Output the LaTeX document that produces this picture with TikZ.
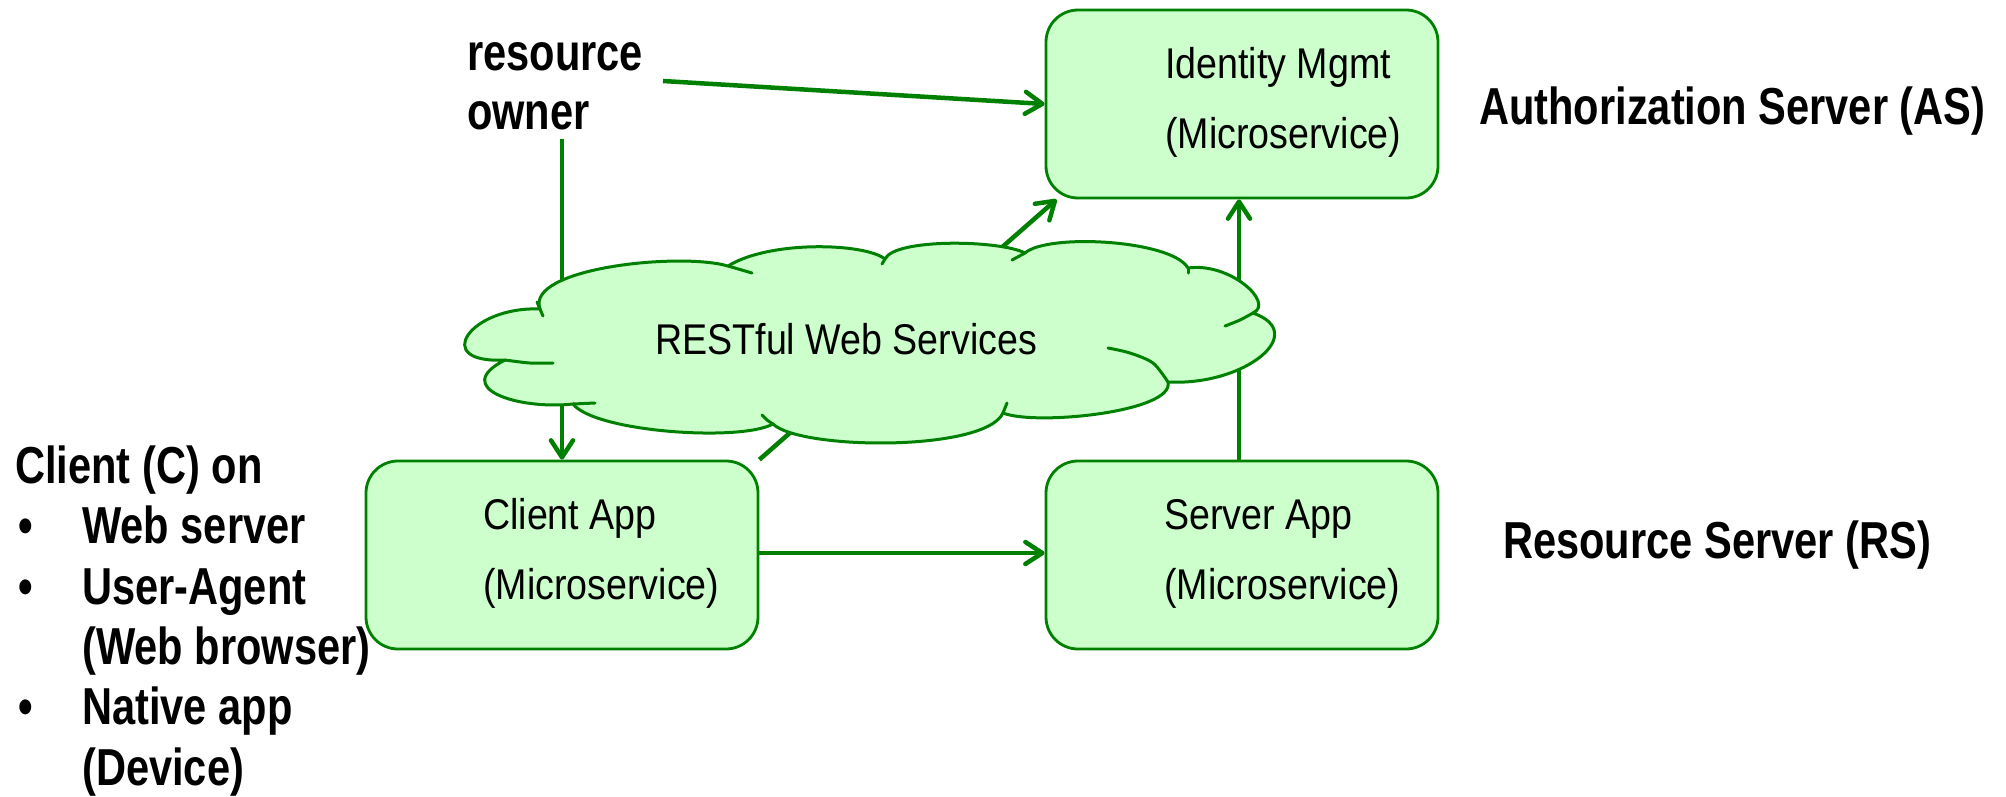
\documentclass[tikz,border=0pt]{standalone}
\usepackage{fontspec}
\setmainfont{Liberation Sans}
\newfontfamily\labelfont{Liberation Sans}[FakeStretch=0.8]
\newfontfamily\boxfont{Liberation Sans}[FakeStretch=0.875]
\usetikzlibrary{arrows.meta}
\definecolor{lineg}{RGB}{0,128,0}
\definecolor{fillg}{RGB}{204,255,204}

\begin{document}
\begin{tikzpicture}[x=1pt,y=-1pt,
  svc/.style={draw=lineg, fill=fillg, line width=2.8pt, rounded corners=32pt,
    minimum width=392pt, minimum height=188pt, inner sep=0pt},
  svctext/.style={anchor=base west, inner sep=0pt, font=\boxfont\fontsize{43}{50}\selectfont},
  heading/.style={anchor=base west, inner sep=0pt, font=\labelfont\bfseries\fontsize{52}{60}\selectfont},
  flow/.style={draw=lineg, line width=4.5pt, -{Straight Barb[length=17pt,width=22pt,round]}},
  puff/.style={draw=lineg, line width=3pt, line join=round, line cap=round},
  puffline/.style={draw=lineg, line width=3pt, line cap=round},
]
\useasboundingbox (0,0) rectangle (2006,796);

% --- service boxes ---
\node[svc] (idm)    at (1242,104) {};
\node[svc] (client) at (562,555) {};
\node[svc] (server) at (1242,555) {};

\node[svctext] (idm1) at (1165,78)  {Identity Mgmt};
\node[svctext] (idm2) at (1165,148) {(Microservice)};
\node[svctext] (cli1) at (483,529)  {Client App};
\node[svctext] (cli2) at (483,599)  {(Microservice)};
\node[svctext] (srv1) at (1164,529) {Server App};
\node[svctext] (srv2) at (1164,599) {(Microservice)};

% --- labels ---
\node[heading] (ro1) at (467,70)  {resource};
\node[heading] (ro2) at (467,129) {owner};
\node[heading] (as)  at (1479,124) {Authorization Server (AS)};
\node[heading] (rs)  at (1503,558) {Resource Server (RS)};

\node[heading] (cl0) at (15,483) {Client (C) on};
\node[heading, anchor=base] (b1) at (26,543) {•};
\node[heading] (cl1) at (82,543) {Web server};
\node[heading, anchor=base] (b2) at (26,604) {•};
\node[heading] (cl2) at (82,604) {User-Agent};
\node[heading] (cl3) at (82,664) {(Web browser)};
\node[heading, anchor=base] (b3) at (26,724) {•};
\node[heading] (cl4) at (82,724) {Native app};
\node[heading] (cl5) at (82,785) {(Device)};

% --- connectors (the cloud is drawn over them) ---
\coordinate (ro-out)  at (663,81);
\coordinate (ro-down) at (562,139);
\draw[flow] (ro-out) -- (idm.west);
\draw[flow] (ro-down) -- (client.north);
\draw[flow] (client.north east) -- ([xshift=12pt]idm.south west);
\draw[flow] ([xshift=-3pt]server.north) -- ([xshift=-3pt]idm.south);
\draw[flow] ([yshift=2pt]client.east) -- ([yshift=2pt]server.west);

% --- cloud outline, one lobe per curve ---
\draw[puff, fill=fillg] (540,309)
  .. controls (470,306) and (430,364) .. (505,360)     % left
  .. controls (450,388) and (518,410) .. (573,404)     % lower left
  .. controls (595,432) and (740,442) .. (773,424)     % bottom
  .. controls (800,450) and (985,452) .. (1003,413)    % bottom middle
  .. controls (1035,426) and (1175,412) .. (1168,382)  % bottom right
  .. controls (1245,386) and (1310,333) .. (1253,313)  % right
  .. controls (1275,303) and (1230,262) .. (1188,268)  % upper right
  .. controls (1172,240) and (1048,233) .. (1025,253)  % top right
  .. controls (1000,240) and (895,238) .. (885,259)    % top middle
  .. controls (865,243) and (770,240) .. (728,266)     % top left
  .. controls (680,252) and (525,268) .. (540,309)     % upper left
  -- cycle;

% inner arcs of the cloud
\draw[puffline] plot[smooth] coordinates {(537,302) (540,309) (543,316)};
\draw[puffline] plot[smooth] coordinates {(505,360) (530,363) (553,363)};
\draw[puffline] plot[smooth] coordinates {(573,404) (595,403)};
\draw[puffline] plot[smooth] coordinates {(773,424) (767,420) (762,415)};
\draw[puffline] plot[smooth] coordinates {(1003,413) (1007,403)};
\draw[puffline] plot[smooth] coordinates {(1168,382) (1153,363) (1130,353) (1108,348)};
\draw[puffline] plot[smooth] coordinates {(1253,313) (1240,320) (1225,326)};
\draw[puffline] plot[smooth] coordinates {(1188,268) (1188,273)};
\draw[puffline] plot[smooth] coordinates {(1025,253) (1012,260)};
\draw[puffline] plot[smooth] coordinates {(885,259) (882,264)};
\draw[puffline] plot[smooth] coordinates {(728,266) (752,273)};

\node[svctext] (rest) at (655,354) {RESTful Web Services};
\end{tikzpicture}
\end{document}
